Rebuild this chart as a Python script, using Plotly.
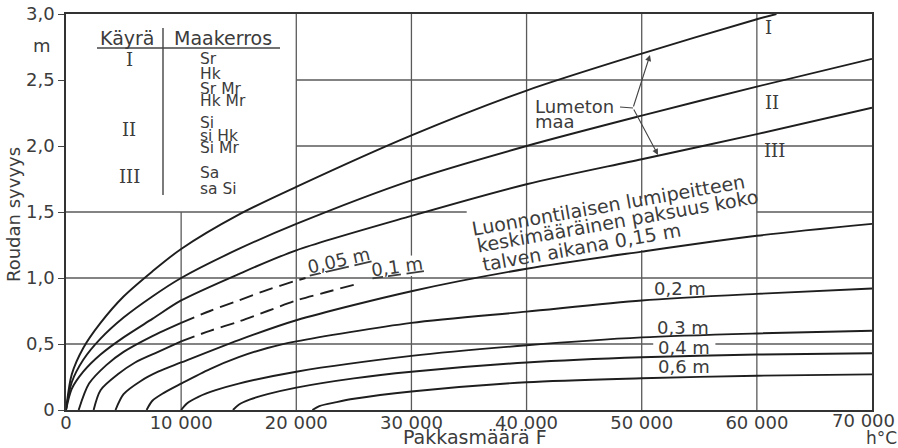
import plotly.graph_objects as go

# ---- frost index F (h°C) and frost depth (m) ----
# snow-free ground, soil groups I, II, III
f_I = [0, 500, 1500, 3000, 5000, 7500, 10000, 15000, 20000, 30000, 40000, 50000, 60000, 61700]
d_I = [0, 0.27, 0.47, 0.66, 0.86, 1.05, 1.22, 1.48, 1.69, 2.08, 2.42, 2.70, 2.96, 3.00]
f_II = [0, 500, 1500, 3000, 5000, 7500, 10000, 15000, 20000, 30000, 40000, 50000, 60000, 70000]
d_II = [0, 0.21, 0.38, 0.54, 0.70, 0.86, 1.00, 1.22, 1.41, 1.74, 2.00, 2.23, 2.45, 2.66]
f_III = [0, 500, 1500, 3000, 5000, 7500, 10000, 15000, 20000, 30000, 40000, 50000, 60000, 70000]
d_III = [0, 0.16, 0.29, 0.42, 0.55, 0.69, 0.83, 1.03, 1.21, 1.47, 1.71, 1.90, 2.09, 2.29]

# natural snow cover, mean thickness over the winter
f_005 = [1100, 2000, 3500, 5000, 7500, 10000, 12500, 15000, 17500, 20000, 20800]
d_005 = [0, 0.20, 0.34, 0.44, 0.56, 0.66, 0.75, 0.83, 0.91, 0.98, 1.00]
f_010 = [2400, 3000, 4500, 6000, 8000, 10000, 12500, 15000, 17500, 20000, 22500, 25500]
d_010 = [0, 0.15, 0.27, 0.36, 0.44, 0.52, 0.60, 0.67, 0.75, 0.83, 0.89, 0.96]
f_015 = [4300, 5000, 6500, 8000, 10000, 15000, 20000, 30000, 40000, 50000, 60000, 70000]
d_015 = [0, 0.12, 0.22, 0.29, 0.36, 0.53, 0.68, 0.90, 1.07, 1.20, 1.32, 1.41]
f_020 = [7000, 7500, 8500, 10000, 12500, 15000, 17500, 20000, 30000, 40000, 50000, 60000, 70000]
d_020 = [0, 0.07, 0.13, 0.20, 0.31, 0.40, 0.47, 0.52, 0.66, 0.745, 0.83, 0.88, 0.92]
f_030 = [10000, 10500, 11500, 13000, 15000, 20000, 30000, 40000, 50000, 60000, 70000]
d_030 = [0, 0.05, 0.10, 0.15, 0.20, 0.29, 0.41, 0.49, 0.55, 0.58, 0.60]
f_040 = [14500, 15000, 16000, 17500, 20000, 25000, 30000, 40000, 50000, 60000, 70000]
d_040 = [0, 0.04, 0.08, 0.12, 0.17, 0.24, 0.29, 0.36, 0.40, 0.42, 0.43]
f_060 = [21400, 22000, 23500, 25000, 30000, 40000, 50000, 60000, 70000]
d_060 = [0, 0.03, 0.06, 0.085, 0.14, 0.21, 0.24, 0.26, 0.27]

# the thinnest snow covers are only estimated beyond this frost index
DASH_FROM = 10000

# ---- axes ----
x_ticks = [0, 10000, 20000, 30000, 40000, 50000, 60000, 70000]
x_tick_text = ["0", "10 000", "20 000", "30 000", "40 000", "50 000", "60 000", "70 000"]
y_ticks = [0, 0.5, 1.0, 1.5, 2.0, 2.5, 3.0]
y_tick_text = ["0", "0,5", "1,0", "1,5", "2,0", "2,5", "3,0"]
X_MAX, Y_MAX = 70000, 3.0

# ---- style ----
W, H = 898, 448
M_L, M_R, M_T, M_B = 66, 26, 14, 38
INK = "#1e1e1e"
GRID = "#5a5a5a"
TEXT = "#3c3c3c"
SANS = "DejaVu Sans"
SERIF = "DejaVu Serif"
PW, PH = W - M_L - M_R, H - M_T - M_B


def at(px, py):
    """Page pixel position -> axis units."""
    return (px - M_L) / PW * X_MAX, (H - M_B - py) / PH * Y_MAX


def at_paper(px, py):
    """Page pixel position -> paper fraction of the plot area."""
    return (px - M_L) / PW, (H - M_B - py) / PH


fig = go.Figure()


def curve(f, d, dash="solid"):
    fig.add_trace(go.Scatter(
        x=f, y=d, mode="lines", hoverinfo="skip", showlegend=False,
        line=dict(color=INK, width=1.9, shape="spline", smoothing=0.8, dash=dash),
    ))


for f, d in [(f_I, d_I), (f_II, d_II), (f_III, d_III), (f_015, d_015),
             (f_020, d_020), (f_030, d_030), (f_040, d_040), (f_060, d_060)]:
    curve(f, d)

for f, d in [(f_005, d_005), (f_010, d_010)]:
    k = f.index(DASH_FROM)
    curve(f[:k + 1], d[:k + 1])
    curve(f[k:], d[k:], dash="14px,7px")

# ---- grid (left open where the key and the labels sit) ----
shapes = []
v_grid = [(10000, 0, 1.5), (20000, 0, 3.0), (30000, 0, 1.015), (30000, 1.17, 3.0),
          (40000, 0, 3.0), (50000, 0, 1.21), (50000, 1.60, 3.0), (60000, 0, 3.0)]
h_grid = [(0.5, 0, 51000), (0.5, 56400, 70000), (1.0, 0, 70000), (1.5, 0, 34800),
          (1.5, 60000, 70000), (2.0, 20000, 70000), (2.5, 20000, 70000)]
for x, y0, y1 in v_grid:
    shapes.append(dict(type="line", x0=x, x1=x, y0=y0, y1=y1, layer="below",
                       line=dict(color=GRID, width=1.3)))
for y, x0, x1 in h_grid:
    shapes.append(dict(type="line", x0=x0, x1=x1, y0=y, y1=y, layer="below",
                       line=dict(color=GRID, width=1.3)))


def seg(p0, p1, width=1.3, color=GRID):
    (x0, y0), (x1, y1) = at(*p0), at(*p1)
    shapes.append(dict(type="line", x0=x0, y0=y0, x1=x1, y1=y1,
                       line=dict(color=color, width=width)))


# key table rules
seg((97, 48), (280, 48), 1.4, "#444")
seg((163, 28), (163, 195), 1.4, "#444")
# leader from "Lumeton maa"
seg((620, 107), (633, 108), 1.1, "#444")

annotations = []


def label(text, px, py, size=18, angle=0, family=SANS, xanchor="center"):
    x, y = at_paper(px, py)
    annotations.append(dict(
        text=text, x=x, y=y, xref="paper", yref="paper", showarrow=False,
        textangle=angle, xanchor=xanchor, yanchor="middle",
        font=dict(family=family, size=size, color=TEXT),
    ))


# key table
label("Käyrä", 127, 38, 19)
label("Maakerros", 223, 38, 19)
label("I", 129, 60, 18, family=SERIF)
label("II", 129, 129, 18, family=SERIF)
label("III", 129, 176, 18, family=SERIF)
for txt, py in [("Sr", 59), ("Hk", 74), ("Sr Mr", 88.5), ("Hk Mr", 101),
                ("Si", 123.5), ("si Hk", 136), ("Si Mr", 147.5),
                ("Sa", 172.5), ("sa Si", 188.5)]:
    label(txt, 198, py, 15.5, xanchor="left")

# soil group marks at the right
label("I", 768, 27, 18, family=SERIF)
label("II", 772, 102, 18, family=SERIF)
label("III", 774, 150, 18, family=SERIF)

label("Lumeton", 533, 106, 18, xanchor="left")
label("maa", 533, 122, 18, xanchor="left")

label("Luonnontilaisen lumipeitteen", 608, 205, 19, angle=-10)
label("keskimääräinen paksuus koko", 617, 221, 19, angle=-10)
label("talven aikana 0,15 m", 581, 247, 19, angle=-10)

label("<u>0,05</u> <u>m</u>", 338, 260, 18, angle=-13)
label("<u>0,1</u> <u>m</u>", 397, 266, 18, angle=-8)
label("0,2 m", 680, 288, 18)
label("0,3 m", 683, 327, 18)
label("0,4 m", 684, 347, 18)
label("0,6 m", 684, 366, 18)

# axis titles, units and the last x tick label (kept inside the page)
label("Roudan syvyys", 13, 215, 18, angle=-90)
label("m", 41.5, 46, 18)
label("Pakkasmäärä F", 475, 437, 19)
label("h°C", 881, 438, 17)
label(x_tick_text[-1], 897, 420, 18, xanchor="right")

# arrows from "Lumeton maa" to curves I and III
for tip in [(650, 55), (658, 155)]:
    tx, ty = at(*tip)
    ax, ay = at(633, 108)
    annotations.append(dict(
        text="", x=tx, y=ty, ax=ax, ay=ay, xref="x", yref="y", axref="x", ayref="y",
        showarrow=True, arrowhead=2, arrowsize=1.1, arrowwidth=1.1,
        arrowcolor="#444", standoff=0, startstandoff=0,
    ))

fig.update_layout(
    width=W, height=H,
    margin=dict(l=M_L, r=M_R, t=M_T, b=M_B, pad=0),
    paper_bgcolor="white", plot_bgcolor="white",
    showlegend=False,
    shapes=shapes, annotations=annotations,
    font=dict(family=SANS, size=18, color=TEXT),
    xaxis=dict(
        range=[0, X_MAX], tickvals=x_ticks[:-1], ticktext=x_tick_text[:-1],
        ticks="", showgrid=False, zeroline=False, automargin=False,
        ticklabelstandoff=-4,
        showline=True, mirror=True, linecolor="#333", linewidth=1.6,
        tickfont=dict(family=SANS, size=18, color=TEXT),
    ),
    yaxis=dict(
        range=[0, Y_MAX], tickvals=y_ticks, ticktext=y_tick_text,
        ticks="outside", ticklen=6, tickwidth=1.3, tickcolor="#444",
        showgrid=False, zeroline=False, automargin=False,
        showline=True, mirror=True, linecolor="#333", linewidth=1.6,
        tickfont=dict(family=SANS, size=18, color=TEXT),
    ),
)

fig.write_html("out.html")
